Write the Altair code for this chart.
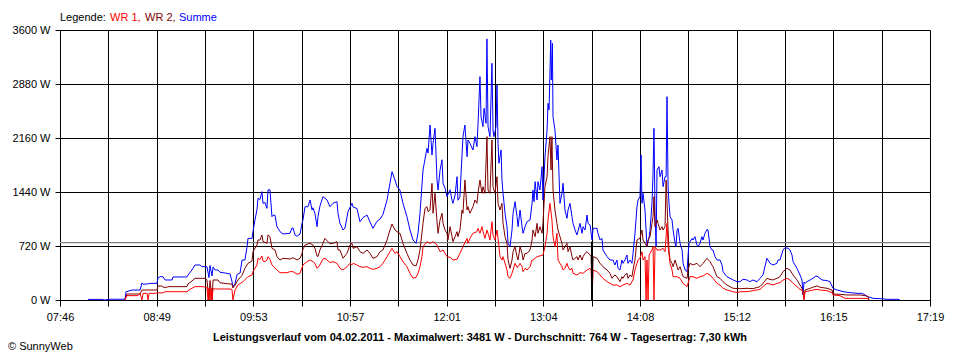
import altair as alt
import pandas as pd

# ---------------- data ----------------
x_labels = ["07:46", "08:49", "09:53", "10:57", "12:01", "13:04", "14:08", "15:12", "16:15", "17:19"]
y_ticks = [0, 720, 1440, 2160, 2880, 3600]
average_w = 764

# (minutes after midnight, watts)
summe = [
    (484.4, 8), (494.3, 8), (495.0, 0), (498.9, 10), (508.8, 10), (509.5, 110), (513.4, 133), (518.7, 133),
    (520.0, 227), (520.7, 210), (524.0, 215), (525.3, 222), (529.9, 222), (530.5, 293), (531.9, 311),
    (533.8, 311), (535.2, 267), (539.8, 267), (540.4, 307), (549.6, 307), (550.3, 333), (552.9, 400),
    (554.9, 467), (558.2, 467), (559.5, 444), (562.8, 444), (564.1, 300), (564.8, 460), (566.1, 320),
    (566.8, 440), (568.1, 400), (570.1, 400), (571.4, 370), (574.7, 360), (578.0, 347), (579.3, 244),
    (579.9, 178), (581.3, 220), (582.6, 340), (584.6, 360), (585.9, 533), (587.8, 533), (589.2, 711),
    (589.8, 822), (592.5, 822), (593.1, 911), (594.4, 1067), (595.7, 1200), (596.4, 1356), (597.7, 1340),
    (599.0, 1444), (599.7, 1289), (601.0, 1300), (602.3, 1222), (603.0, 1467), (604.3, 1470), (605.6, 1111),
    (606.3, 1130), (607.6, 1130), (608.9, 978), (610.9, 911), (612.9, 880), (617.5, 890), (618.8, 960),
    (619.5, 960), (620.8, 867), (622.1, 850), (624.1, 880), (625.4, 1022), (626.0, 1067), (627.4, 1244),
    (629.3, 1244), (630.7, 1333), (632.0, 1200), (632.6, 1230), (633.9, 1156), (635.3, 978), (635.9, 1111),
    (637.2, 1250), (639.2, 1378), (641.9, 1333), (643.8, 1244), (645.8, 1289), (648.4, 1311), (649.1, 1156),
    (650.4, 1022), (652.4, 933), (653.7, 960), (655.7, 1178), (658.3, 1289), (659.0, 1240), (661.6, 1220),
    (663.6, 1044), (665.6, 1100), (668.2, 1133), (670.2, 1040), (672.1, 956), (674.8, 1050), (676.8, 1080),
    (678.7, 1140), (681.4, 1333), (683.3, 1556), (684.7, 1711), (686.6, 1600), (688.0, 1511), (689.9, 1467),
    (691.9, 1289), (694.5, 1111), (696.5, 933), (698.5, 800), (700.5, 756), (701.8, 889), (703.1, 1156),
    (705.1, 1733), (707.7, 2022), (708.4, 1960), (709.7, 2333), (711.0, 1933), (711.7, 2090), (713.0, 2289),
    (714.3, 1600), (715.0, 1467), (716.3, 1730), (717.6, 1870), (718.3, 1556), (719.6, 1490), (720.9, 1378),
    (722.9, 1470), (724.2, 1330), (724.8, 1289), (726.2, 1400), (727.5, 1644), (728.1, 1330), (729.4, 1378),
    (731.4, 2178), (732.7, 2333), (734.1, 1911), (734.7, 2133), (736.0, 2089), (738.0, 2000), (739.3, 2178),
    (740.6, 2044), (741.3, 2333), (742.6, 2978), (743.3, 2444), (744.6, 2311), (745.3, 2556), (746.6, 2356),
    (747.2, 3481), (747.9, 2311), (749.2, 2178), (750.5, 3156), (751.2, 2267), (751.8, 2178), (753.2, 2311),
    (753.8, 2867), (754.5, 2089), (755.1, 1822), (756.5, 2000), (757.1, 1600), (757.8, 1422), (759.1, 1156),
    (760.4, 978), (761.1, 756), (762.4, 711), (763.7, 933), (764.4, 1156), (765.7, 1311), (767.0, 1111),
    (767.7, 978), (769.0, 1200), (770.3, 978), (771.0, 889), (772.3, 978), (773.6, 1044), (775.6, 1067),
    (776.9, 1289), (777.5, 1467), (778.2, 1311), (778.9, 1578), (780.2, 1333), (780.8, 1578), (782.1, 1467),
    (783.5, 1778), (784.1, 1333), (785.4, 1900), (786.8, 2267), (787.4, 2622), (788.1, 2533), (789.2, 3467),
    (789.6, 2933), (790.3, 3422), (790.7, 2444), (792.0, 2267), (793.3, 1867), (794.0, 2067), (795.3, 1289),
    (796.6, 1422), (797.3, 1556), (798.6, 1200), (799.9, 1089), (800.6, 1200), (801.9, 1289), (803.2, 1111),
    (803.9, 1022), (805.2, 933), (806.5, 867), (808.5, 1022), (809.8, 889), (810.5, 978), (811.8, 933),
    (813.1, 1133), (813.8, 1022), (815.1, 1000), (816.4, 800), (817.1, 956), (819.7, 956), (820.3, 889),
    (821.7, 800), (823.0, 822), (823.6, 667), (826.3, 578), (828.2, 533), (830.2, 533), (831.5, 467),
    (832.8, 533), (833.5, 422), (834.8, 400), (836.1, 533), (836.8, 489), (838.1, 533), (839.4, 600),
    (840.1, 489), (841.4, 533), (842.7, 489), (843.4, 622), (844.7, 889), (846.0, 1244), (846.7, 1333),
    (848.0, 1378), (848.7, 1933), (849.3, 1289), (850.0, 1422), (851.3, 1200), (852.0, 933), (852.6, 711),
    (854.0, 844), (854.6, 933), (855.9, 1289), (856.6, 1689), (857.2, 2289), (857.9, 1156), (858.6, 711),
    (859.2, 1733), (860.5, 1778), (861.2, 1644), (862.5, 1733), (863.2, 1511), (864.5, 1644), (865.2, 1644),
    (865.8, 2711), (866.5, 1511), (867.1, 1289), (867.8, 1111), (869.1, 1067), (869.8, 933), (871.1, 756),
    (871.7, 711), (872.4, 933), (873.1, 956), (874.4, 756), (875.7, 667), (876.4, 489), (877.7, 400),
    (879.0, 378), (879.6, 578), (880.3, 756), (882.3, 822), (882.9, 800), (884.2, 844), (885.5, 733),
    (886.2, 711), (887.5, 756), (888.8, 844), (889.5, 800), (890.8, 889), (892.1, 942), (892.8, 933),
    (894.1, 711), (895.4, 667), (896.1, 667), (897.4, 578), (898.7, 533), (900.7, 533), (902.0, 467),
    (902.7, 378), (905.3, 311), (907.3, 289), (909.3, 267), (911.9, 244), (913.9, 244), (915.8, 276),
    (918.5, 267), (920.4, 244), (922.4, 267), (925.1, 244), (927.0, 289), (929.0, 333), (931.6, 556),
    (932.3, 533), (933.6, 489), (935.6, 467), (938.2, 489), (938.9, 533), (940.2, 533), (941.5, 622),
    (942.2, 667), (943.5, 698), (945.5, 690), (946.8, 667), (948.1, 600), (948.8, 511), (951.4, 422),
    (953.4, 333), (954.7, 267), (955.4, 67), (956.0, 240), (956.7, 222), (958.0, 244), (960.0, 267),
    (961.9, 289), (963.9, 320), (965.2, 311), (967.9, 267), (971.2, 258), (973.1, 244), (975.1, 156),
    (977.7, 133), (979.7, 124), (981.7, 111), (986.3, 98), (990.9, 89), (994.2, 89), (996.2, 67),
    (998.2, 44), (1001.5, 22), (1006.1, 18), (1010.7, 9), (1017.9, 9), (1019.2, 0),
]

wr2 = [
    (508.8, 0), (510.1, 80), (518.7, 80), (520.0, 133), (529.9, 133), (530.5, 187), (533.1, 187),
    (533.8, 170), (536.5, 170), (537.1, 178), (549.6, 178), (550.3, 213), (552.9, 253), (554.9, 289),
    (561.5, 289), (562.8, 267), (564.1, 0), (564.8, 260), (566.1, 0), (566.8, 267), (570.1, 267),
    (571.4, 230), (578.0, 213), (579.3, 213), (579.9, 160), (581.3, 200), (583.2, 267), (585.9, 330),
    (587.8, 422), (589.8, 489), (592.5, 520), (593.1, 644), (595.7, 733), (596.4, 800), (597.7, 800),
    (599.0, 867), (599.7, 780), (601.0, 770), (602.3, 756), (603.0, 867), (604.3, 844), (605.6, 689),
    (607.6, 667), (608.9, 578), (610.9, 533), (612.9, 556), (617.5, 547), (619.5, 564), (622.1, 533),
    (624.1, 556), (625.4, 622), (626.0, 676), (627.4, 733), (630.7, 756), (632.6, 733), (633.9, 689),
    (635.3, 587), (635.9, 578), (637.2, 667), (639.2, 756), (640.5, 822), (642.5, 778), (643.8, 750),
    (645.8, 756), (648.4, 778), (649.1, 667), (650.4, 667), (652.4, 556), (655.0, 622), (657.0, 733),
    (658.3, 756), (659.0, 689), (661.6, 711), (663.6, 644), (665.6, 622), (668.2, 667), (670.2, 622),
    (672.1, 556), (674.8, 578), (676.8, 644), (678.7, 667), (681.4, 800), (683.3, 933), (684.7, 1013),
    (686.6, 933), (688.0, 911), (689.9, 889), (691.9, 756), (694.5, 622), (696.5, 533), (698.5, 467),
    (700.5, 456), (701.8, 533), (703.1, 667), (705.1, 1022), (706.4, 1222), (707.7, 1244), (708.4, 1178),
    (709.7, 1200), (711.0, 1556), (711.7, 1156), (713.0, 1422), (714.3, 1044), (715.0, 889), (716.3, 1067),
    (717.6, 1156), (718.3, 1022), (719.6, 933), (720.9, 889), (721.5, 800), (722.9, 978), (724.2, 844),
    (724.8, 778), (726.2, 844), (727.5, 911), (728.1, 844), (729.4, 933), (730.8, 1200), (731.4, 1156),
    (732.7, 1600), (734.1, 1200), (734.7, 1244), (736.0, 1156), (738.0, 1244), (739.3, 1333), (740.6, 1289),
    (741.3, 1422), (742.6, 1600), (743.9, 1422), (744.6, 1511), (745.9, 1422), (747.2, 2178), (747.9, 1467),
    (749.2, 1422), (750.5, 2133), (751.2, 1511), (752.5, 1422), (753.8, 1644), (754.5, 1289), (755.8, 1200),
    (757.1, 1289), (757.8, 1022), (759.1, 844), (760.4, 756), (761.1, 533), (762.4, 422), (763.7, 533),
    (764.4, 644), (765.7, 711), (767.0, 578), (767.7, 533), (769.0, 711), (770.3, 622), (771.0, 533),
    (772.3, 622), (773.6, 622), (775.6, 667), (776.9, 800), (777.5, 933), (778.9, 844), (780.2, 1022),
    (780.8, 889), (782.1, 978), (783.5, 889), (784.1, 1022), (785.4, 1511), (786.8, 1644), (787.4, 1911),
    (788.7, 2178), (789.4, 1733), (790.0, 2178), (790.7, 1467), (792.0, 1200), (793.3, 1022), (794.0, 933),
    (795.3, 844), (796.6, 756), (797.3, 667), (798.6, 711), (799.9, 756), (800.6, 644), (801.9, 711),
    (803.2, 578), (803.9, 533), (806.5, 578), (807.2, 533), (808.5, 600), (809.8, 533), (810.5, 578),
    (811.8, 622), (813.1, 644), (815.1, 600), (815.8, 578), (816.4, 0), (817.1, 578), (819.7, 556),
    (821.7, 489), (823.6, 444), (826.3, 400), (828.2, 356), (829.6, 289), (830.2, 311), (831.5, 333),
    (832.8, 311), (834.8, 244), (836.1, 311), (836.8, 289), (838.1, 333), (839.4, 356), (840.1, 289),
    (841.4, 333), (842.7, 311), (843.4, 400), (844.7, 533), (846.0, 800), (848.0, 822), (849.3, 933),
    (850.0, 800), (851.3, 756), (852.6, 711), (853.3, 800), (854.6, 844), (855.9, 1022), (856.6, 1111),
    (857.2, 1378), (857.9, 978), (859.2, 1067), (859.9, 1022), (861.2, 933), (862.5, 978), (863.2, 933),
    (864.5, 978), (865.2, 1600), (866.5, 933), (867.1, 667), (867.8, 533), (869.1, 489), (869.8, 444),
    (871.1, 533), (872.4, 444), (873.1, 400), (874.4, 444), (875.7, 356), (876.4, 311), (879.0, 289),
    (879.6, 400), (880.9, 489), (882.9, 467), (885.5, 489), (887.5, 444), (889.5, 489), (892.1, 556),
    (894.1, 511), (896.1, 444), (898.7, 311), (900.7, 289), (902.7, 244), (905.3, 200), (907.3, 178),
    (909.3, 156), (913.9, 151), (918.5, 156), (922.4, 151), (927.0, 178), (929.0, 222), (931.6, 289),
    (933.6, 275), (935.6, 267), (938.2, 289), (940.2, 311), (942.2, 378), (944.8, 422), (946.8, 400),
    (948.8, 333), (951.4, 267), (953.4, 200), (954.7, 156), (956.0, 20), (956.7, 133), (958.0, 142),
    (960.0, 156), (961.9, 170), (964.6, 187), (966.6, 170), (971.2, 156), (974.5, 133), (975.1, 80),
    (979.7, 76), (984.3, 67), (992.9, 67), (996.2, 58), (998.2, 44), (998.8, 0),
]

wr1 = [
    (508.8, 0), (510.1, 58), (517.4, 58), (518.7, 89), (520.0, 0), (520.7, 89), (523.4, 89), (524.0, 0),
    (524.7, 89), (528.6, 89), (529.9, 95), (533.8, 95), (535.2, 111), (549.6, 111), (551.6, 142),
    (554.9, 178), (560.2, 178), (561.5, 170), (562.8, 170), (563.5, 0), (564.1, 160), (564.8, 0),
    (565.5, 160), (566.1, 0), (566.8, 150), (568.1, 147), (578.0, 147), (579.3, 140), (579.9, 0),
    (581.3, 133), (583.2, 200), (586.5, 244), (589.8, 311), (592.5, 333), (593.1, 378), (595.7, 467),
    (596.4, 556), (597.7, 540), (599.0, 587), (599.7, 520), (601.0, 511), (602.3, 533), (603.0, 578),
    (604.3, 540), (605.6, 467), (608.9, 400), (610.9, 364), (615.5, 364), (617.5, 378), (619.5, 378),
    (622.1, 344), (624.1, 356), (626.0, 467), (628.7, 511), (630.7, 533), (632.6, 511), (633.9, 489),
    (635.3, 422), (637.2, 467), (639.2, 547), (640.5, 556), (643.8, 500), (645.8, 511), (648.4, 489),
    (650.4, 422), (652.4, 400), (655.0, 444), (657.0, 489), (658.3, 467), (659.0, 489), (661.6, 467),
    (663.6, 444), (665.6, 436), (668.2, 444), (670.2, 422), (672.1, 409), (674.8, 422), (676.8, 444),
    (678.7, 489), (681.4, 578), (683.3, 644), (684.7, 689), (686.6, 622), (688.0, 644), (689.9, 578),
    (691.9, 511), (694.5, 444), (696.5, 356), (698.5, 289), (700.5, 302), (701.8, 356), (703.1, 444),
    (704.4, 578), (705.1, 711), (707.7, 778), (709.7, 756), (711.7, 778), (714.3, 733), (716.3, 644),
    (718.3, 667), (720.9, 578), (722.9, 569), (724.8, 533), (727.5, 542), (729.4, 622), (731.4, 711),
    (734.1, 822), (734.7, 756), (736.0, 822), (738.0, 889), (740.6, 911), (741.3, 956), (742.6, 889),
    (743.9, 978), (744.6, 911), (745.9, 822), (747.2, 933), (747.9, 889), (749.2, 800), (750.5, 1044),
    (751.2, 867), (752.5, 800), (753.8, 933), (754.5, 822), (755.8, 578), (757.1, 533), (757.8, 578),
    (759.1, 489), (760.4, 400), (761.1, 311), (762.4, 289), (763.7, 356), (764.4, 400), (765.7, 489),
    (767.0, 436), (767.7, 444), (769.0, 489), (770.3, 444), (771.0, 378), (772.3, 422), (773.6, 400),
    (775.6, 444), (776.9, 533), (777.5, 533), (780.2, 578), (784.1, 600), (785.4, 711), (786.8, 889),
    (787.4, 1067), (788.7, 1289), (790.0, 1067), (790.7, 844), (792.0, 711), (793.3, 889), (794.0, 533),
    (795.3, 489), (796.6, 444), (797.3, 400), (798.6, 422), (799.9, 489), (800.6, 444), (801.9, 400),
    (803.2, 422), (803.9, 356), (806.5, 333), (808.5, 364), (810.5, 356), (813.1, 400), (815.1, 422),
    (815.8, 400), (816.4, 0), (817.1, 400), (819.7, 378), (821.7, 333), (823.6, 289), (826.3, 244),
    (828.2, 222), (830.2, 200), (832.8, 200), (834.8, 178), (836.8, 200), (839.4, 222), (841.4, 200),
    (843.4, 267), (844.7, 400), (846.0, 489), (846.7, 533), (848.0, 556), (849.3, 644), (850.0, 533),
    (851.3, 578), (852.0, 0), (852.6, 533), (853.3, 0), (854.0, 600), (854.6, 622), (855.9, 667),
    (856.6, 711), (857.2, 0), (857.9, 711), (859.2, 667), (861.2, 667), (863.2, 689), (864.5, 644),
    (865.8, 1022), (866.5, 711), (867.8, 489), (869.1, 400), (869.8, 311), (872.4, 311), (874.4, 289),
    (876.4, 222), (879.0, 178), (880.9, 311), (882.9, 311), (885.5, 289), (887.5, 311), (889.5, 320),
    (892.1, 356), (894.1, 333), (896.1, 289), (898.7, 222), (900.7, 200), (902.7, 156), (905.3, 133),
    (907.3, 124), (909.3, 111), (911.9, 100), (913.9, 110), (918.5, 111), (922.4, 124), (927.0, 142),
    (929.0, 178), (931.6, 222), (933.6, 213), (935.6, 200), (938.2, 222), (940.2, 231), (942.2, 267),
    (944.8, 289), (946.8, 267), (948.8, 222), (951.4, 178), (953.4, 142), (955.4, 124), (956.0, 0),
    (956.7, 111), (960.0, 124), (961.9, 133), (964.6, 142), (966.6, 133), (971.2, 124), (974.5, 98),
    (975.1, 67), (979.7, 58), (983.0, 22), (992.9, 22), (998.2, 18), (998.8, 0),
]

# dark vertical glitch near 13:36
glitch_min = [816.4]
glitch_w = [780]

legend_parts = ["Legende:", "WR 1,", "WR 2,", "Summe"]
legend_colors = ["#000000", "#ff0000", "#800000", "#0000ff"]
title_text = ("Leistungsverlauf vom 04.02.2011 - Maximalwert: 3481 W - "
              "Durchschnitt: 764 W - Tagesertrag: 7,30 kWh")
copyright_text = "\u00a9 SunnyWeb"

# ---------------- build chart ----------------
FONT = "Liberation Sans"


def to_min(s):
    h, m = s.split(":")
    return int(h) * 60 + int(m)


t0, t1 = to_min(x_labels[0]), to_min(x_labels[-1])
n_int = 2 * (len(x_labels) - 1)
step = (t1 - t0) / n_int
grid_vals = [t0 + i * step for i in range(n_int + 1)]
lab_arr = [x_labels[i // 2] if i % 2 == 0 else "" for i in range(n_int + 1)]
x_label_expr = ("[" + ",".join("'%s'" % s for s in lab_arr) + "]"
                + "[round((datum.value - %f) / %f)]" % (t0, step))

W, H = 870, 270

xscale = alt.Scale(domain=[t0, t1], nice=False, zero=False)
yscale = alt.Scale(domain=[y_ticks[0], y_ticks[-1]], nice=False)

xaxis = alt.Axis(values=grid_vals, labelExpr=x_label_expr, title=None, grid=True,
                 gridColor="#000000", gridWidth=1, gridOpacity=1,
                 tickColor="#000000", tickSize=6, tickWidth=1,
                 domainColor="#000000", domainWidth=1,
                 labelFont=FONT, labelFontSize=11, labelColor="#000000",
                 labelPadding=5, labelOverlap=False, labelFlush=False)
yaxis = alt.Axis(values=y_ticks, labelExpr="datum.value + ' W'", title=None, grid=True,
                 gridColor="#000000", gridWidth=1, gridOpacity=1,
                 tickColor="#000000", tickSize=5, tickWidth=1,
                 domainColor="#000000", domainWidth=1,
                 labelFont=FONT, labelFontSize=11, labelColor="#000000",
                 labelPadding=5)

X = alt.X("t:Q", scale=xscale, axis=xaxis)
Y = alt.Y("w:Q", scale=yscale, axis=yaxis)


def frame(pairs):
    return pd.DataFrame({"t": [p[0] for p in pairs], "w": [p[1] for p in pairs]})


avg_rule = alt.Chart(pd.DataFrame({"w": [average_w]})).mark_rule(
    color="#808080", strokeWidth=1.2
).encode(y=Y)


def line(pairs, color):
    return alt.Chart(frame(pairs)).mark_line(color=color, strokeWidth=1, interpolate="linear").encode(
        x=X, y=Y,
    )


glitch = alt.Chart(pd.DataFrame({"t": glitch_min, "w": glitch_w, "z": [0]})).mark_rule(
    color="#000000", strokeWidth=2
).encode(
    x=X,
    y=alt.Y("z:Q", scale=yscale, axis=yaxis),
    y2="w:Q",
)

legend_x = [0, 50, 85, 119]
legend_layers = []
for txt, col, lx in zip(legend_parts, legend_colors, legend_x):
    legend_layers.append(
        alt.Chart(pd.DataFrame({"s": [txt]})).mark_text(
            font=FONT, fontSize=11, color=col, align="left", baseline="alphabetic"
        ).encode(x=alt.value(lx), y=alt.value(-9), text="s:N")
    )

title_layer = alt.Chart(pd.DataFrame({"s": [title_text]})).mark_text(
    font=FONT, fontSize=11, fontWeight="bold", color="#000000", align="center", baseline="alphabetic"
).encode(x=alt.value(W / 2 - 15), y=alt.value(311), text="s:N")

copy_layer = alt.Chart(pd.DataFrame({"s": [copyright_text]})).mark_text(
    font=FONT, fontSize=11, color="#000000", align="left", baseline="alphabetic"
).encode(x=alt.value(-52), y=alt.value(320), text="s:N")

chart = alt.layer(
    avg_rule,
    line(summe, "#0000ff"), line(wr2, "#800000"), line(wr1, "#ff0000"),
    glitch, *legend_layers, title_layer, copy_layer,
).properties(
    width=W, height=H,
    autosize=alt.AutoSizeParams(type="none"),
    padding={"left": 52, "top": 22, "right": 20, "bottom": 52},
    background="#ffffff",
).configure_view(strokeWidth=0)

chart.save("out.html", embed_options={"renderer": "svg", "actions": False})
